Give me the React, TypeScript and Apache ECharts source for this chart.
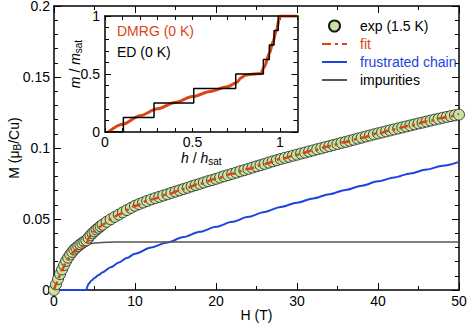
import React, { useEffect, useRef } from "react";
import * as echarts from "echarts";

const FONT = '"Liberation Sans", Arial, Helvetica, sans-serif';
const RED = "#dc4318";
const BLUE = "#1d44de";
const GREY = "#555555";
const GREEN = "#c6e3a1";

// Main panel: magnetization vs field
const expH = [
  0, 0.25, 0.5, 0.75, 1, 1.25, 1.5, 1.75, 2, 2.25, 2.5, 2.75, 3, 3.25, 3.5, 3.75, 4, 4.25, 4.5, 4.75, 5, 5.25, 5.5, 5.75,
  6, 6.5, 7, 7.5, 8, 8.5, 9, 9.5,
  10, 10.5, 11, 11.5, 12, 12.5, 13, 13.5, 14, 14.5, 15, 15.5, 16, 16.5, 17, 17.5, 18, 18.5, 19, 19.5,
  20, 20.5, 21, 21.5, 22, 22.5, 23, 23.5, 24, 24.5, 25, 25.5, 26, 26.5, 27, 27.5, 28, 28.5, 29, 29.5,
  30, 30.5, 31, 31.5, 32, 32.5, 33, 33.5, 34, 34.5, 35, 35.5, 36, 36.5, 37, 37.5, 38, 38.5, 39, 39.5,
  40, 40.5, 41, 41.5, 42, 42.5, 43, 43.5, 44, 44.5, 45, 45.5, 46, 46.5, 47, 47.5, 48, 48.5, 49, 49.5, 50,
];
const expM = [
  0, 0.004, 0.0078, 0.0112, 0.0145, 0.0176, 0.0205, 0.0228, 0.025, 0.0268, 0.0285, 0.0298, 0.031, 0.0322, 0.0332, 0.0341, 0.035, 0.0368, 0.0385, 0.04, 0.0414, 0.0426, 0.0438, 0.0449,
  0.046, 0.048, 0.0498, 0.0515, 0.0531, 0.0547, 0.0563, 0.0578,
  0.0593, 0.0605, 0.0616, 0.0627, 0.0638, 0.0647, 0.0656, 0.0665, 0.0674, 0.0684, 0.0693, 0.0702, 0.0711, 0.072, 0.073, 0.0739, 0.0748, 0.0757, 0.0766, 0.0774,
  0.0783, 0.0792, 0.0801, 0.0809, 0.0818, 0.0827, 0.0836, 0.0844, 0.0853, 0.0862, 0.0871, 0.0879, 0.0888, 0.0897, 0.0906, 0.0914, 0.0923, 0.0931, 0.0938, 0.0946,
  0.0953, 0.0961, 0.0968, 0.0976, 0.0983, 0.0991, 0.0998, 0.1006, 0.1013, 0.1021, 0.1028, 0.1036, 0.1043, 0.1051, 0.1058, 0.1066, 0.1073, 0.1081, 0.1088, 0.1096,
  0.1103, 0.111, 0.1117, 0.1124, 0.1131, 0.1138, 0.1145, 0.1152, 0.1159, 0.1166, 0.1173, 0.1179, 0.1186, 0.1193, 0.12, 0.1206, 0.1213, 0.1219, 0.1225, 0.123, 0.1235,
];

const fitH = [0, 0.25, 0.5, 0.75, 1, 1.5, 2, 2.5, 3, 3.5, 4, 4.3, 4.6, 5, 5.5, 6, 7, 8, 9, 10, 12, 14, 16, 18, 20, 22, 24, 26, 28, 30, 32, 34, 36, 38, 40, 42, 44, 46, 48, 50];
const fitM = [0, 0.0038, 0.0075, 0.011, 0.0142, 0.0198, 0.0241, 0.0273, 0.0295, 0.031, 0.0319, 0.0367, 0.0391, 0.0416, 0.0438, 0.046, 0.0497, 0.0531, 0.0563, 0.0593, 0.0638, 0.0673, 0.0711, 0.0748, 0.0783, 0.0818, 0.0853, 0.0888, 0.0923, 0.0953, 0.0983, 0.1013, 0.1043, 0.1073, 0.1103, 0.1131, 0.1159, 0.1186, 0.1213, 0.124];

const chainH = [0, 4, 4.1, 4.3, 4.6, 5, 5.5, 6, 7, 8, 9, 10, 12, 14, 16, 18, 20, 22, 24, 26, 28, 30, 32, 34, 36, 38, 40, 42, 44, 46, 48, 50];
const chainM = [0, 0, 0.0025, 0.0045, 0.0065, 0.0085, 0.0105, 0.0125, 0.016, 0.0193, 0.0225, 0.0255, 0.03, 0.0335, 0.0373, 0.041, 0.0445, 0.048, 0.0515, 0.055, 0.0585, 0.0615, 0.0645, 0.0675, 0.0705, 0.0735, 0.0765, 0.0793, 0.0821, 0.0848, 0.0875, 0.0902];

const impH = [0, 0.25, 0.5, 0.75, 1, 1.5, 2, 2.5, 3, 3.5, 4, 5, 6, 7, 8, 10, 20, 30, 40, 50];
const impM = [0, 0.0038, 0.0075, 0.011, 0.0142, 0.0198, 0.0241, 0.0273, 0.0295, 0.031, 0.0319, 0.0331, 0.0335, 0.0337, 0.0338, 0.0338, 0.0338, 0.0338, 0.0338, 0.0338];

// Inset: normalized magnetization curve
const dmrgH = [0.02, 0.1, 0.2, 0.3, 0.4, 0.5, 0.6, 0.7, 0.75, 0.78, 0.8, 0.85, 0.89, 0.91, 0.94, 0.96, 0.98, 0.995, 1.0, 1.1];
const dmrgM = [0, 0.066, 0.14, 0.2, 0.255, 0.305, 0.35, 0.39, 0.425, 0.47, 0.49, 0.5, 0.505, 0.56, 0.68, 0.78, 0.88, 0.97, 1, 1];

const edH = [0, 0.105, 0.28, 0.507, 0.747, 0.905, 0.939, 0.966, 0.99, 1.1];
const edM = [0, 0.125, 0.25, 0.375, 0.5, 0.625, 0.75, 0.875, 1, 1];

const legendNames = ["exp (1.5 K)", "fit", "frustrated chain", "impurities"];
const legendColors = ["#000", RED, BLUE, "#000"];

const zip = (a: number[], b: number[]) => a.map((v, i) => [v, b[i]]);

const axisLine = { show: true, onZero: false, lineStyle: { color: "#000", width: 1.5 } };
const label = { color: "#000", fontSize: 14, fontFamily: FONT };

function mainAxis(extra: any) {
  return {
    type: "value",
    splitLine: { show: false },
    axisLine,
    axisTick: { show: true, inside: true, length: 7, lineStyle: { color: "#000", width: 1 } },
    minorTick: { show: true, length: 4, lineStyle: { color: "#000", width: 1 } },
    ...extra,
  };
}

export default function App() {
  const ref = useRef<HTMLDivElement>(null);
  useEffect(() => {
    if (!ref.current) return;
    const chart = echarts.init(ref.current, undefined, { renderer: "svg" });
    const insetLabel = (v: number) => {
      if (Math.abs(v) < 1e-6) return "0";
      if (Math.abs(v - 0.5) < 1e-6) return "0.5";
      if (Math.abs(v - 1) < 1e-6) return "1";
      return "";
    };
    const option: any = {
      animation: false,
      backgroundColor: "#fff",
      textStyle: { fontFamily: FONT },
      grid: [
        { left: 54, right: 10, top: 6, bottom: 35, outerBoundsMode: "none", containLabel: false },
        {
          left: 105, top: 16, width: 192.5, height: 116, show: true, backgroundColor: "#fff", borderWidth: 0, z: 10,
          outerBoundsMode: "none", containLabel: false,
        },
      ],
      xAxis: [
        mainAxis({
          gridIndex: 0, position: "bottom", min: 0, max: 50, interval: 10,
          minorTick: { show: true, splitNumber: 2, length: 4, lineStyle: { color: "#000" } },
          axisLabel: { ...label, margin: 4 },
          name: "H (T)", nameLocation: "middle", nameGap: 18, nameMoveOverlap: false,
          nameTextStyle: { color: "#000", fontSize: 14, fontFamily: FONT },
        }),
        {
          type: "value", gridIndex: 1, position: "bottom", min: 0, max: 1.1, interval: 0.1,
          splitLine: { show: false }, axisLine,
          axisTick: { inside: true, length: 4, lineStyle: { color: "#000" } },
          axisLabel: { ...label, margin: 3, formatter: insetLabel, showMaxLabel: false },
          name: "{i|h}{n| / }{i|h}{s|sat}", nameLocation: "middle", nameGap: 17, nameMoveOverlap: false,
          nameTextStyle: {
            color: "#000", fontSize: 14, fontFamily: FONT,
            rich: {
              i: { fontStyle: "italic", fontSize: 14, fontFamily: FONT, color: "#000" },
              n: { fontSize: 14, fontFamily: FONT, color: "#000" },
              s: { fontSize: 10, fontFamily: FONT, color: "#000", padding: [7, 0, 0, 0] },
            },
          },
          z: 11,
        },
        mainAxis({
          gridIndex: 0, position: "top", min: 0, max: 50, interval: 10,
          minorTick: { show: true, splitNumber: 2, length: 4, lineStyle: { color: "#000" } },
          axisLabel: { show: false },
        }),
        {
          type: "value", gridIndex: 1, position: "top", min: 0, max: 1.1, interval: 0.1,
          splitLine: { show: false }, axisLine,
          axisTick: { inside: true, length: 4, lineStyle: { color: "#000" } },
          axisLabel: { show: false }, z: 11,
        },
      ],
      yAxis: [
        mainAxis({
          gridIndex: 0, position: "left", min: 0, max: 0.2, interval: 0.05,
          minorTick: { show: true, splitNumber: 5, length: 4, lineStyle: { color: "#000" } },
          axisLabel: { ...label, margin: 4 },
          name: "{n|M (μ}{s|B}{n|/Cu)}", nameLocation: "middle", nameGap: 32, nameMoveOverlap: false,
          nameTextStyle: {
            color: "#000", fontSize: 14, fontFamily: FONT,
            rich: {
              n: { fontSize: 14, fontFamily: FONT, color: "#000" },
              s: { fontSize: 10, fontFamily: FONT, color: "#000", padding: [7, 0, 0, 0] },
            },
          },
        }),
        {
          type: "value", gridIndex: 1, position: "left", min: 0, max: 1, interval: 0.5,
          splitLine: { show: false }, axisLine,
          axisTick: { inside: true, length: 6, lineStyle: { color: "#000" } },
          minorTick: { show: true, splitNumber: 5, length: 4, lineStyle: { color: "#000" } },
          axisLabel: { ...label, margin: 5 },
          name: "{i|m}{n| / }{i|m}{s|sat}", nameLocation: "middle", nameGap: 22, nameMoveOverlap: false,
          nameTextStyle: {
            color: "#000", fontSize: 14, fontFamily: FONT, padding: [0, 0, 0, 20],
            rich: {
              i: { fontStyle: "italic", fontSize: 14, fontFamily: FONT, color: "#000" },
              n: { fontSize: 14, fontFamily: FONT, color: "#000" },
              s: { fontSize: 10, fontFamily: FONT, color: "#000", padding: [7, 0, 0, 0] },
            },
          },
          z: 11,
        },
        mainAxis({
          gridIndex: 0, position: "right", min: 0, max: 0.2, interval: 0.05,
          minorTick: { show: true, splitNumber: 5, length: 4, lineStyle: { color: "#000" } },
          axisLabel: { show: false },
        }),
        {
          type: "value", gridIndex: 1, position: "right", min: 0, max: 1, interval: 0.5,
          splitLine: { show: false }, axisLine,
          axisTick: { inside: true, length: 6, lineStyle: { color: "#000" } },
          minorTick: { show: true, splitNumber: 5, length: 4, lineStyle: { color: "#000" } },
          axisLabel: { show: false }, z: 11,
        },
      ],
      legend: {
        orient: "vertical", left: 316, top: 14, itemWidth: 25, itemHeight: 11, itemGap: 4,
        selectedMode: false,
        textStyle: { fontSize: 14, fontFamily: FONT, padding: [0, 0, 0, 8] },
        data: legendNames.map((n, i) => ({
          name: n,
          textStyle: { color: legendColors[i] },
          ...(i === 0 ? {} : { itemStyle: { opacity: 0 } }),
        })),
      },
      graphic: [
        { type: "text", left: 117, top: 24, z: 100, style: { text: "DMRG (0 K)", fill: RED, font: `14px ${FONT}` } },
        { type: "text", left: 117, top: 45, z: 100, style: { text: "ED (0 K)", fill: "#000", font: `14px ${FONT}` } },
      ],
      series: [
        {
          name: "frustrated chain", type: "line", xAxisIndex: 0, yAxisIndex: 0, data: zip(chainH, chainM),
          symbol: "none", smooth: 0.3, smoothMonotone: "x", lineStyle: { color: BLUE, width: 2 }, itemStyle: { color: BLUE }, z: 2,
        },
        {
          name: "impurities", type: "line", xAxisIndex: 0, yAxisIndex: 0, data: zip(impH, impM),
          symbol: "none", smooth: 0.3, smoothMonotone: "x", lineStyle: { color: GREY, width: 1.5 }, itemStyle: { color: GREY }, z: 3,
        },
        {
          name: "exp (1.5 K)", type: "scatter", xAxisIndex: 0, yAxisIndex: 0, data: zip(expH, expM),
          symbol: "circle", symbolSize: 11,
          itemStyle: { color: GREEN, borderColor: "#1a1a1a", borderWidth: 0.8, opacity: 1 }, z: 4,
        },
        {
          name: "fit", type: "line", xAxisIndex: 0, yAxisIndex: 0, data: zip(fitH, fitM),
          symbol: "none", smooth: 0.3, smoothMonotone: "x",
          lineStyle: { color: RED, width: 2.5, type: [9, 4, 3, 4] }, itemStyle: { color: RED }, z: 5,
        },
        {
          name: "DMRG", type: "line", xAxisIndex: 1, yAxisIndex: 1, data: zip(dmrgH, dmrgM),
          symbol: "none", smooth: 0.3, smoothMonotone: "x", lineStyle: { color: RED, width: 3 }, z: 20,
        },
        {
          name: "ED", type: "line", xAxisIndex: 1, yAxisIndex: 1, data: zip(edH, edM),
          symbol: "none", step: "end", lineStyle: { color: "#000", width: 1.5 }, z: 21,
        },
      ],
    };
    chart.setOption(option);
    return () => chart.dispose();
  }, []);
  return <div ref={ref} style={{ position: "absolute", left: 0, top: 0, width: 469, height: 325 }} />;
}
